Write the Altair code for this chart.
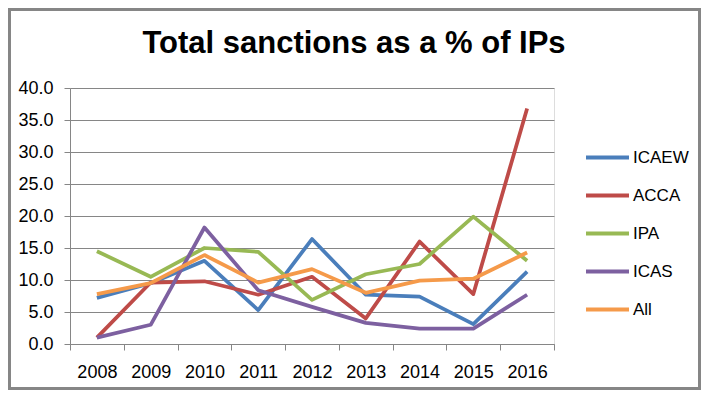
import altair as alt
import pandas as pd

years = ["2008", "2009", "2010", "2011", "2012", "2013", "2014", "2015", "2016"]
series_names = ["ICAEW", "ACCA", "IPA", "ICAS", "All"]
icaew = [7.2, 9.5, 13.0, 5.3, 16.4, 7.7, 7.4, 3.1, 11.3]
acca = [1.0, 9.6, 9.8, 7.7, 10.5, 4.0, 16.0, 7.8, 36.8]
ipa = [14.5, 10.5, 15.0, 14.4, 6.9, 10.9, 12.5, 19.9, 13.0]
icas = [1.0, 3.0, 18.2, 8.4, 5.8, 3.3, 2.4, 2.4, 7.7]
all_ips = [7.8, 9.5, 13.9, 9.6, 11.7, 8.0, 9.9, 10.2, 14.3]
colors = ["#4A7EBB", "#BE4B48", "#98B954", "#7D60A0", "#F59A4A"]
title_text = "Total sanctions as a % of IPs"

values = [icaew, acca, ipa, icas, all_ips]
rows = []
for name, vals in zip(series_names, values):
    for y, v in zip(years, vals):
        rows.append({"year": y, "series": name, "value": v})
df = pd.DataFrame(rows)

W, H = 484, 256
PL, PT, PR, PB = 62, 80, 147, 46

lines = alt.Chart(df).mark_line(strokeWidth=3.75, strokeJoin="round").encode(
    x=alt.X("year:O", scale=alt.Scale(type="band", paddingInner=0, paddingOuter=0),
            axis=alt.Axis(title=None, labelAngle=0, tickBand="extent", tickSize=6,
                          labelPadding=13, labelFontSize=18, labelFont="Liberation Sans",
                          labelColor="#000000", domainColor="#868686", tickColor="#868686",
                          domainWidth=1, tickWidth=1)),
    y=alt.Y("value:Q", scale=alt.Scale(domain=[0, 40], nice=False),
            axis=alt.Axis(title=None, values=[0, 5, 10, 15, 20, 25, 30, 35, 40], format=".1f",
                          tickSize=6, labelPadding=11, labelFontSize=18,
                          labelFont="Liberation Sans", labelColor="#000000",
                          grid=True, gridColor="#868686", gridWidth=1,
                          domainColor="#868686", tickColor="#868686")),
    color=alt.Color("series:N", sort=series_names,
                    scale=alt.Scale(domain=series_names, range=colors),
                    legend=alt.Legend(title=None, orient="none", legendX=514, legendY=46,
                                      symbolType="stroke", symbolSize=1849,
                                      symbolStrokeWidth=4, labelFontSize=17,
                                      labelFont="Liberation Sans", labelColor="#000000",
                                      labelOffset=2, rowPadding=6, padding=0)),
    order=alt.Order("series:N"),
)

title = alt.Chart(alt.Data(values=[{"t": title_text}])).mark_text(
    font="Liberation Sans", fontSize=31, fontWeight="bold", align="center",
    baseline="alphabetic", color="#000000"
).encode(x=alt.value(284), y=alt.value(-35), text="t:N")

frame = alt.Chart(alt.Data(values=[{"f": 1}])).mark_rect(
    fill=None, stroke="#868686", strokeWidth=3
).encode(x=alt.value(-PL + 1.5), x2=alt.value(W + PR - 1.5),
         y=alt.value(-PT + 1.5), y2=alt.value(H + PB - 1.5))

chart = alt.layer(lines, title, frame).properties(
    width=W, height=H,
    autosize=alt.AutoSizeParams(type="none"),
    padding={"left": PL, "top": PT, "right": PR, "bottom": PB},
).configure_view(stroke=None).configure(background="white")

chart.save("out.html", embed_options={"renderer": "svg", "actions": False})
